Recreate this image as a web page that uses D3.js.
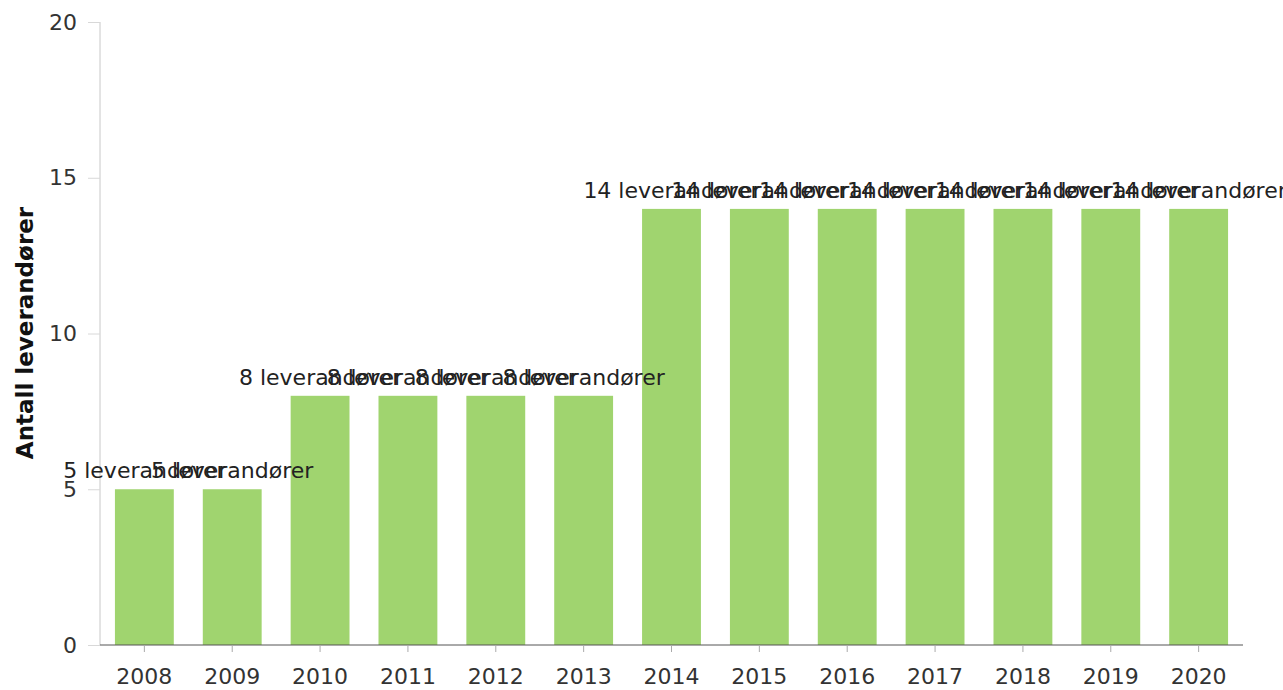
<!DOCTYPE html>
<html><head><meta charset="utf-8">
<script src="https://cdn.jsdelivr.net/npm/d3@7"></script>
<style>body{margin:0;background:#fff}svg{display:block}</style>
</head><body>
<svg id="c" width="1283" height="690"></svg>
<script>
const years = ["2008","2009","2010","2011","2012","2013","2014","2015","2016","2017","2018","2019","2020"];
const values = [5,5,8,8,8,8,14,14,14,14,14,14,14];
const labelSuffix = " leverandører";
const yTicks = [0,5,10,15,20];
const yTitle = "Antall leverandører";

const svg = d3.select("#c");
const font = "'DejaVu Sans', Verdana, sans-serif";
const x = d3.scaleBand().domain(years).range([100,1243]).paddingInner(0.33).paddingOuter(0.17);
const y = d3.scaleLinear().domain([0,20]).range([645,22]);

// y axis
const ya = svg.append("g").attr("transform","translate(100,0)")
  .call(d3.axisLeft(y).tickValues(yTicks).tickSize(12).tickPadding(11));
ya.select(".domain").attr("stroke","#c8c8c8").attr("d","M0,22V645");
ya.selectAll(".tick line").attr("stroke","#d8d8d8");
ya.selectAll(".tick text").attr("font-family",font).attr("font-size",22).attr("fill","#333");

// bars
svg.append("g").selectAll("rect").data(values).join("rect")
  .attr("x",(d,i)=>x(years[i])).attr("width",x.bandwidth())
  .attr("y",d=>y(d)).attr("height",d=>y(0)-y(d))
  .attr("fill","#a0d46f");

// x axis
const xa = svg.append("g").attr("transform","translate(0,645)")
  .call(d3.axisBottom(x).tickSize(7).tickPadding(16));
xa.select(".domain").attr("stroke","#555").attr("d","M100,0H1243");
xa.selectAll(".tick line").attr("stroke","#aaa");
xa.selectAll(".tick text").attr("font-family",font).attr("font-size",22).attr("fill","#333");

// labels
svg.append("g").selectAll("text").data(values).join("text")
  .attr("x",(d,i)=>x(years[i])+x.bandwidth()/2).attr("y",d=>y(d)-11)
  .attr("text-anchor","middle").attr("font-family",font).attr("font-size",22).attr("fill","#222")
  .text(d=>d+labelSuffix);

// y title
svg.append("text").attr("transform","translate(33,333) rotate(-90)")
  .attr("text-anchor","middle").attr("font-family",font).attr("font-size",23)
  .attr("font-weight","bold").attr("fill","#111").text(yTitle);
</script>
</body></html>
